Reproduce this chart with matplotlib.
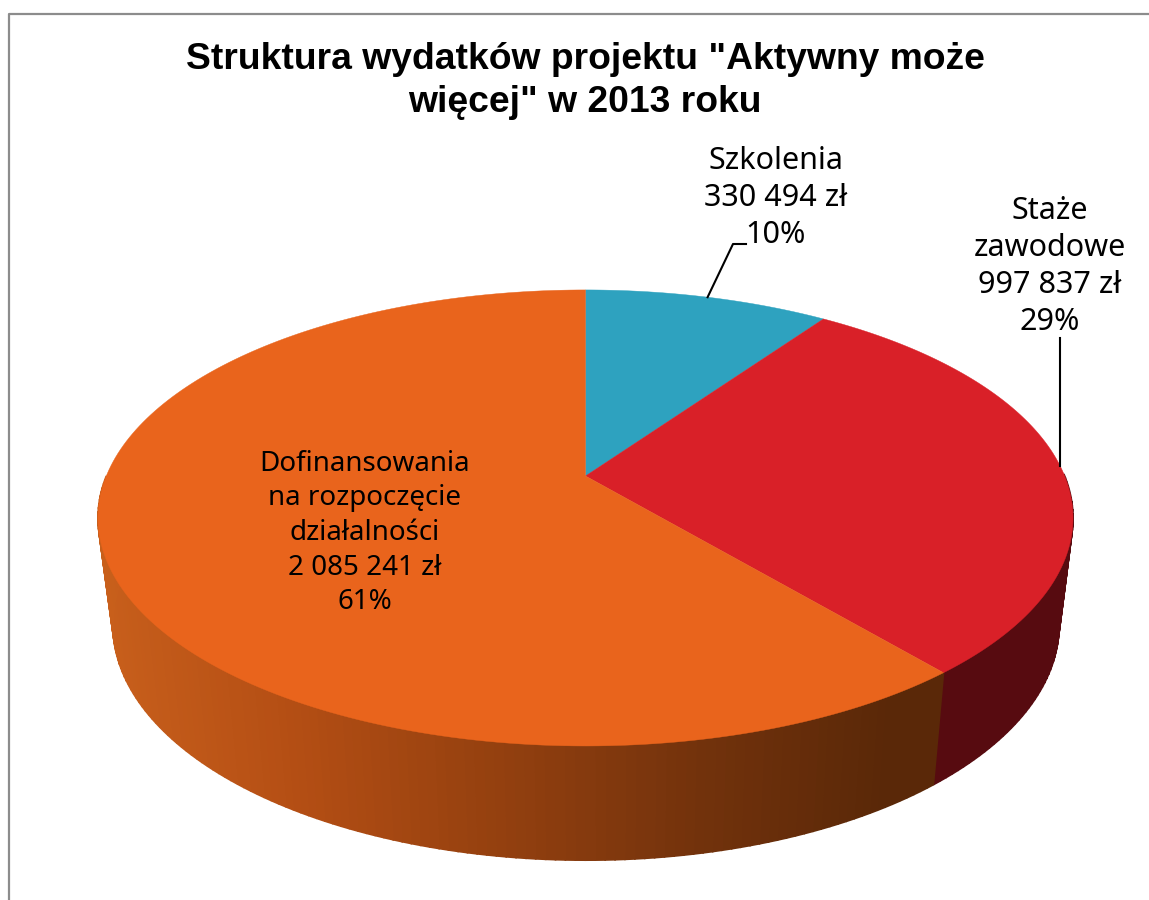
import numpy as np
import matplotlib
matplotlib.use("Agg")
import matplotlib.pyplot as plt

names = ["Szkolenia", "Staże\nzawodowe", "Dofinansowania\nna rozpoczęcie\ndziałalności"]
values = [330494, 997837, 2085241]
top_colors = ["#2ea2bf", "#d92028", "#e9641c"]
# side colour stops, left to right in pixels
side_x = [100, 300, 500, 700, 880, 1080]
side_colors = [
    ["#1d6a7d"] * 6,
    ["#570b10"] * 6,
    ["#c9601c", "#b44e14", "#94400f", "#72320c", "#5a2808", "#5a2808"],
]
title = 'Struktura wydatków projektu "Aktywny może\nwięcej" w 2013 roku'

plt.rcParams["font.family"] = "Noto Sans"
fig = plt.figure(figsize=(11.49, 9), dpi=100)
ax = fig.add_axes([0, 0, 1, 1])
ax.set_xlim(0, 1149)
ax.set_ylim(900, 0)
ax.axis("off")

# perspective of the disc: k tilts it, a/b are the half sizes
k = 0.184


def project(ang, cx, cy, a, b):
    u, v = np.sin(ang), -np.cos(ang)
    d = 1 - k * v
    return cx + a * u / d, cy + b * v / d


def hex_rgb(c):
    return np.array(matplotlib.colors.to_rgb(c))


shares = np.array(values) / sum(values)
edges = np.concatenate([[0], np.cumsum(shares)]) * 2 * np.pi

# side wall, front half only so nothing peeks out behind the top face
for i in range(3):
    ang = np.linspace(edges[i], edges[i + 1], int(shares[i] * 360) + 2)
    xt, yt = project(ang, 585.5, 476, 479.2, 220.3)
    xb, yb = project(ang, 586, 582, 465, 227)
    stops = np.array([hex_rgb(c) for c in side_colors[i]])
    for j in range(len(ang) - 1):
        if -np.cos(ang[j]) < 0 and -np.cos(ang[j + 1]) < 0:
            continue
        mx = (xb[j] + xb[j + 1]) / 2
        col = [np.interp(mx, side_x, stops[:, n]) for n in range(3)]
        ax.fill([xt[j], xt[j + 1], xb[j + 1], xb[j]], [yt[j], yt[j + 1], yb[j + 1], yb[j]],
                color=col, lw=1.2, zorder=2)

# top face
for i in range(3):
    ang = np.linspace(edges[i], edges[i + 1], 200)
    x, y = project(ang, 585.5, 476, 479.2, 220.3)
    ax.fill(np.r_[585.5, x], np.r_[476, y], color=top_colors[i], lw=0.3, zorder=3)

# frame
ax.plot([9, 9, 1149], [900, 14, 14], color="#8c8c8c", lw=1.6, zorder=1)

ax.text(585, 81, title, ha="center", va="center", fontsize=26.8, fontweight="bold",
        family="Liberation Sans", linespacing=1.3, color="black", zorder=5)


def label(i, x, y, size, gap):
    amount = f"{values[i]:,}".replace(",", " ") + " zł"
    txt = f"{names[i]}\n{amount}\n{round(shares[i] * 100)}%"
    ax.text(x, y, txt, ha="center", va="center", fontsize=size, linespacing=gap,
            color="black", zorder=5)


label(0, 775.5, 198, 22, 1.31)
label(1, 1050, 266.5, 22, 1.31)
label(2, 365, 533, 20, 1.32)

# leader lines
mid = (edges[0] + edges[1]) / 2
lx, ly = project(mid, 585.5, 476, 479.2, 220.3)
ax.plot([lx, 733, 746], [ly, 244, 244], color="black", lw=1.5, zorder=4)
ax.plot([1060, 1060], [338, 466], color="black", lw=1.5, zorder=4)

fig.savefig("out.png", dpi=100)
